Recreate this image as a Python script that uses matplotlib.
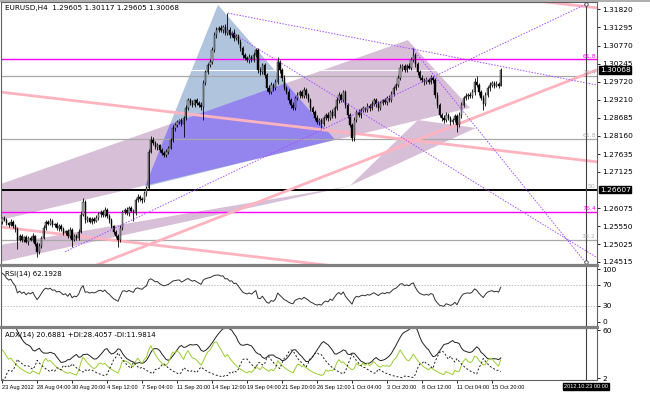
import numpy as np
import matplotlib
matplotlib.use("Agg")
import matplotlib.pyplot as plt
from matplotlib.patches import Polygon
from matplotlib.lines import Line2D

# ---------------- data ----------------
title_text = "EURUSD,H4  1.29605 1.30117 1.29605 1.30068"
rsi_text = "RSI(14) 62.1928"
adx_text = "ADX(14) 20.6881 +DI:28.4057 -DI:11.9814"

# bars before the visible window (only used to warm up the indicators)
warm_start = 1.2328
warm_closes = [1.2335, 1.2342, 1.2338, 1.2350, 1.2362, 1.2358, 1.2371, 1.2384, 1.2380, 1.2395,
               1.2408, 1.2415, 1.2410, 1.2426, 1.2438, 1.2447, 1.2443, 1.2458, 1.2470, 1.2482,
               1.2478, 1.2495, 1.2510, 1.2522, 1.2518, 1.2535, 1.2546, 1.2552, 1.2560, 1.2568]
warm_hi = [6, 5, 7, 4, 6, 5, 8, 6, 5, 7, 6, 4, 5, 8, 6, 5, 7, 6, 5, 8, 6, 7, 5, 6, 8, 5, 7, 6, 5, 6]
warm_lo = [5, 7, 6, 8, 5, 9, 6, 7, 8, 5, 6, 7, 9, 5, 6, 8, 7, 5, 6, 7, 8, 6, 5, 9, 6, 7, 5, 8, 6, 7]

# H4 closes, 23 Aug 2012 00:00 -> 16 Oct 2012 12:00
closes = [
    1.2579, 1.2574, 1.2565, 1.2559, 1.2568, 1.2556, 1.2547, 1.2516, 1.2527, 1.2516,
    1.2524, 1.2510, 1.2522, 1.2516, 1.2527, 1.2504, 1.2481, 1.2498, 1.2522, 1.2550,
    1.2568, 1.2562, 1.2571, 1.2559, 1.2562, 1.2550, 1.2556, 1.2547, 1.2536, 1.2542,
    1.2527, 1.2545, 1.2516, 1.2527, 1.2522, 1.2539, 1.2588, 1.2625, 1.2574, 1.2579,
    1.2568, 1.2576, 1.2571, 1.2579, 1.2591, 1.2597, 1.2588, 1.2602, 1.2585, 1.2574,
    1.2556, 1.2539, 1.2527, 1.2516, 1.2550, 1.2597, 1.2602, 1.2594, 1.2608, 1.2600,
    1.2594, 1.2631, 1.2640, 1.2634, 1.2631, 1.2652, 1.2666, 1.2770, 1.2805, 1.2796,
    1.2784, 1.2790, 1.2776, 1.2767, 1.2761, 1.2770, 1.2782, 1.2805, 1.2839, 1.2848,
    1.2857, 1.2862, 1.2851, 1.2868, 1.2897, 1.2920, 1.2912, 1.2906, 1.2920, 1.2912,
    1.2906, 1.2900, 1.2969, 1.3001, 1.3021, 1.3030, 1.3065, 1.3108, 1.3122, 1.3128,
    1.3122, 1.3131, 1.3114, 1.3122, 1.3108, 1.3114, 1.3099, 1.3105, 1.3088, 1.3070,
    1.3050, 1.3041, 1.3036, 1.3044, 1.3036, 1.3050, 1.3065, 1.3007, 1.3001, 1.3021,
    1.2992, 1.2955, 1.2943, 1.2963, 1.2955, 1.2972, 1.3030, 1.3007, 1.2984, 1.2955,
    1.2943, 1.2920, 1.2906, 1.2897, 1.2926, 1.2935, 1.2943, 1.2932, 1.2949, 1.2935,
    1.2920, 1.2897, 1.2886, 1.2868, 1.2857, 1.2862, 1.2851, 1.2868, 1.2877, 1.2868,
    1.2886, 1.2874, 1.2897, 1.2920, 1.2935, 1.2920, 1.2943, 1.2906, 1.2877, 1.2848,
    1.2810, 1.2862, 1.2886, 1.2877, 1.2891, 1.2897, 1.2891, 1.2903, 1.2897, 1.2909,
    1.2920, 1.2909, 1.2897, 1.2912, 1.2920, 1.2914, 1.2926, 1.2920, 1.2937, 1.2955,
    1.2963, 1.2984, 1.3013, 1.3018, 1.3007, 1.3018, 1.3013, 1.3036, 1.3050, 1.3024,
    1.3001, 1.2984, 1.2978, 1.2972, 1.2978, 1.2972, 1.2984, 1.2978, 1.2935, 1.2906,
    1.2877, 1.2868, 1.2862, 1.2877, 1.2868, 1.2857, 1.2862, 1.2874, 1.2848, 1.2877,
    1.2906, 1.2926, 1.2932, 1.2935, 1.2932, 1.2943, 1.2972, 1.2963, 1.2943, 1.2926,
    1.2909, 1.2935, 1.2955, 1.2963, 1.2969, 1.2961, 1.2966, 1.29605, 1.30068,
]
# upper / lower wicks in pips beyond the candle body
hi_wick = [
    4, 6, 5, 3, 7, 4, 5, 6, 4, 5, 3, 6, 4, 5, 7, 3, 5, 8, 6, 9,
    5, 4, 7, 5, 3, 6, 4, 5, 6, 3, 5, 7, 4, 6, 5, 8, 10, 12, 6, 5,
    4, 6, 5, 7, 5, 4, 6, 8, 5, 4, 6, 3, 5, 4, 7, 6, 5, 8, 6, 4,
    5, 6, 9, 4, 5, 6, 4, 8, 11, 7, 5, 6, 4, 5, 6, 7, 5, 6, 8, 5,
    6, 4, 7, 5, 8, 6, 5, 7, 4, 6, 5, 7, 8, 6, 5, 9, 7, 8, 10, 6,
    8, 7, 9, 49, 8, 6, 10, 7, 6, 8, 5, 7, 6, 9, 5, 8, 5, 6, 8, 7,
    6, 5, 7, 9, 6, 8, 14, 6, 5, 7, 6, 8, 5, 7, 6, 9, 5, 7, 8, 6,
    5, 7, 6, 5, 8, 6, 7, 5, 6, 8, 5, 7, 6, 8, 9, 5, 6, 7, 5, 6,
    5, 8, 6, 7, 5, 6, 4, 7, 5, 8, 6, 5, 7, 6, 4, 6, 5, 7, 8, 6,
    7, 8, 10, 6, 7, 5, 8, 9, 20, 7, 6, 5, 8, 6, 7, 5, 8, 6, 5, 7,
    6, 5, 7, 8, 6, 5, 7, 6, 5, 8, 7, 6, 9, 5, 7, 8, 10, 17, 6, 5,
    7, 8, 6, 9, 7, 6, 8, 7, 5,
]
lo_wick = [
    8, 5, 6, 7, 4, 6, 8, 26, 5, 7, 6, 4, 8, 5, 6, 7, 14, 6, 5, 4,
    6, 5, 4, 7, 5, 6, 8, 5, 6, 7, 5, 6, 20, 5, 7, 6, 5, 4, 9, 6,
    5, 7, 6, 4, 5, 8, 6, 5, 7, 9, 6, 8, 7, 20, 6, 5, 7, 6, 9, 5,
    23, 6, 5, 7, 8, 6, 9, 5, 4, 7, 6, 8, 7, 6, 5, 6, 7, 5, 6, 8,
    5, 7, 6, 38, 5, 6, 8, 7, 5, 6, 7, 8, 38, 6, 5, 7, 6, 5, 8, 7,
    6, 8, 7, 5, 9, 6, 8, 7, 6, 8, 9, 7, 6, 8, 5, 7, 6, 9, 8, 6,
    8, 9, 7, 6, 8, 7, 6, 8, 9, 7, 6, 8, 9, 7, 6, 5, 8, 7, 6, 8,
    7, 9, 8, 7, 6, 9, 12, 7, 6, 8, 7, 6, 5, 7, 8, 6, 7, 9, 8, 7,
    8, 9, 7, 6, 8, 5, 7, 6, 8, 7, 6, 8, 9, 6, 7, 5, 8, 6, 7, 5,
    6, 7, 5, 8, 6, 7, 5, 6, 7, 8, 9, 7, 6, 8, 5, 7, 6, 8, 9, 8,
    7, 9, 8, 6, 7, 9, 8, 7, 20, 6, 8, 7, 6, 9, 7, 6, 8, 7, 9, 6,
    18, 7, 6, 8, 7, 6, 5, 7, 0,
]

time_labels = ["23 Aug 2012", "28 Aug 04:00", "30 Aug 20:00", "4 Sep 12:00", "7 Sep 04:00",
               "11 Sep 20:00", "14 Sep 12:00", "19 Sep 04:00", "21 Sep 20:00", "26 Sep 12:00",
               "1 Oct 04:00", "3 Oct 20:00", "8 Oct 12:00", "11 Oct 04:00", "15 Oct 20:00"]
time_ticks = [0, 16, 32, 48, 64, 80, 96, 112, 128, 144, 160, 176, 192, 208, 224]
price_ticks = [1.31820, 1.31295, 1.30770, 1.30245, 1.29720, 1.29210, 1.28685, 1.28160,
               1.27635, 1.27125, 1.26075, 1.25550, 1.25025, 1.24515]
rsi_ticks = [100, 70, 30, 0]
adx_ticks = [60, 2]

# chart objects, in (bar index, price)
vline_bar = 266.9
vline_label = "2012.10.23 00:00"
bid_price = 1.30068
black_level = 1.26607
magenta_levels = [1.30377, 1.25967]
magenta_names = ["61.8", "76.4"]
gray_levels = [1.29894, 1.28075, 1.25158]
gray_names = ["76.4", "61.8", "38.2"]

blue_tri = [(65.3, 1.2669), (98.7, 1.3195), (152.2, 1.2805)]
thistle_1 = [(-143.6, 1.2357), (185.5, 1.3093), (213.9, 1.2897)]
thistle_2 = [(-46.7, 1.2452), (159.9, 1.2672), (-46.7, 1.2389)]
thistle_3 = [(159.1, 1.2672), (190.1, 1.2862), (216.6, 1.2839)]

pink_lines = [((-1.0, 1.2943), (272.0, 1.2741)),
              ((-1.0, 1.3388), (272.0, 1.3186)),
              ((-1.0, 1.2553), (272.0, 1.2351)),
              ((42.5, 1.2441), (272.0, 1.3007))]
dotted_lines = [((103.3, 1.3171), (272.0, 1.2963)),
                ((105.1, 1.3114), (272.0, 1.2464)),
                ((187.4, 1.3070), (266.5, 1.2452)),
                ((28.8, 1.2481), (267.0, 1.3197))]
anchor_points = [(vline_bar, 1.3197), (vline_bar, 1.2452)]

# ---------------- OHLC ----------------
all_close = np.array(warm_closes + closes)
all_open = np.concatenate([[warm_start], all_close[:-1]])
all_open[-1] = 1.29605
pip = 0.0001
body_top = np.maximum(all_open, all_close)
body_bot = np.minimum(all_open, all_close)
all_high = body_top + np.array(warm_hi + hi_wick) * pip
all_low = body_bot - np.array(warm_lo + lo_wick) * pip
nw = len(warm_closes)
N = len(all_close)

# ---------------- indicators ----------------
period = 14
rsi = np.full(N, np.nan)
d = np.diff(all_close)
g = np.clip(d, 0, None)
l = np.clip(-d, 0, None)
ag, al = g[:period].mean(), l[:period].mean()
rsi[period] = 100 - 100 / (1 + ag / al) if al > 0 else 100
for k in range(period, len(d)):
    ag = (ag * (period - 1) + g[k]) / period
    al = (al * (period - 1) + l[k]) / period
    rsi[k + 1] = 100 if al == 0 else 100 - 100 / (1 + ag / al)

psdi = np.zeros(N)
msdi = np.zeros(N)
for i in range(1, N):
    pdm = max(all_high[i] - all_high[i - 1], 0)
    mdm = max(all_low[i - 1] - all_low[i], 0)
    if pdm == mdm:
        pdm = mdm = 0
    elif pdm < mdm:
        pdm = 0
    else:
        mdm = 0
    tr = max(all_high[i] - all_low[i], abs(all_high[i] - all_close[i - 1]),
             abs(all_low[i] - all_close[i - 1]))
    if tr > 0:
        psdi[i] = 100 * pdm / tr
        msdi[i] = 100 * mdm / tr


def ema(a, n):
    out = np.zeros_like(a)
    k = 2.0 / (n + 1)
    out[0] = a[0]
    for i in range(1, len(a)):
        out[i] = a[i] * k + out[i - 1] * (1 - k)
    return out


pdi = ema(psdi, period)
mdi = ema(msdi, period)
dx = np.where(pdi + mdi > 0, 100 * np.abs(pdi - mdi) / np.maximum(pdi + mdi, 1e-9), 0)
adx = ema(dx, period)

# ---------------- figure ----------------
W, H = 650, 393
fig = plt.figure(figsize=(W / 100, H / 100), dpi=100)
fig.patch.set_facecolor("white")
FS = 5.4
SMALL = ["Liberation Sans", "DejaVu Sans"]


def px_axes(x0, y0, x1, y1):
    return fig.add_axes([x0 / W, 1 - y1 / H, (x1 - x0) / W, (y1 - y0) / H])


ax = px_axes(1, 2, 597, 264)
ax_rsi = px_axes(1, 266, 597, 326)
ax_adx = px_axes(1, 328, 597, 380)

xs = np.arange(len(closes))
xlim = (-0.5, 272.0)
for a in (ax, ax_rsi, ax_adx):
    a.set_xlim(*xlim)
    a.set_facecolor("white")
    for s in a.spines.values():
        s.set_color("#606060")
        s.set_linewidth(0.8)
    a.yaxis.tick_right()
    a.tick_params(axis="y", right=True, left=False, labelright=True, labelleft=False,
                  length=2.5, width=0.6, labelsize=FS, pad=1.5)
    a.tick_params(axis="x", bottom=False, labelbottom=False)
    a.axvline(vline_bar, color="#404040", lw=0.8, zorder=6)

# --- main price window ---
ax.set_ylim(1.24457, 1.32031)
ax.set_yticks(price_ticks)
ax.set_yticklabels([f"{p:.5f}" for p in price_ticks])

t1 = Polygon(thistle_1, closed=True, fc="#d8bfd8", ec="none", zorder=1)
ax.add_patch(t1)
ax.add_patch(Polygon(thistle_2, closed=True, fc="#d8bfd8", ec="none", zorder=1))
ax.add_patch(Polygon(thistle_3, closed=True, fc="#d8bfd8", ec="none", zorder=1))
ax.add_patch(Polygon(blue_tri, closed=True, fc="#b0c4de", ec="none", zorder=1.1))
violet = Polygon(blue_tri, closed=True, fc="#9484ee", ec="none", zorder=1.2)
ax.add_patch(violet)
violet.set_clip_path(t1)

for lv in gray_levels:
    ax.axhline(lv, color="#a8a8a8", lw=0.9, zorder=2)
for lv in magenta_levels:
    ax.axhline(lv, color="#ff00ff", lw=1.0, zorder=2)
ax.axhline(bid_price, color="white", lw=0.8, zorder=2)
ax.axhline(black_level, color="black", lw=1.4, zorder=2)

for (p0, p1) in pink_lines:
    ax.plot([p0[0], p1[0]], [p0[1], p1[1]], color="#ffb3bf", lw=2.0,
            solid_capstyle="butt", zorder=2.5)

# candles
vis_o = all_open[nw:]
vis_c = all_close[nw:]
ax.vlines(xs, all_low[nw:], all_high[nw:], color="black", lw=0.6, zorder=3)
up = vis_c >= vis_o
hgt = np.maximum(np.abs(vis_c - vis_o), 0.00005)
ax.bar(xs[up], hgt[up], bottom=np.minimum(vis_o, vis_c)[up], width=0.6,
       color="#b4b4b4", edgecolor="black", lw=0.3, zorder=3.1)
ax.bar(xs[~up], hgt[~up], bottom=np.minimum(vis_o, vis_c)[~up], width=0.6,
       color="black", edgecolor="black", lw=0.3, zorder=3.1)

for (p0, p1) in dotted_lines:
    ax.plot([p0[0], p1[0]], [p0[1], p1[1]], color="#a64dff", lw=0.7,
            linestyle=(0, (1.5, 1.5)), zorder=4)
for (bx, py) in anchor_points:
    ax.plot(bx, py, "o", ms=2.5, mfc="white", mec="#404040", mew=0.6, zorder=7)

ytr = ax.get_yaxis_transform()
for lv, nm in zip(magenta_levels, magenta_names):
    ax.text(0.998, lv + 0.0002, nm, transform=ytr, ha="right", va="bottom",
            fontsize=4.5, color="#ff00ff", zorder=8)
for lv, nm in zip(gray_levels, gray_names):
    ax.text(0.998, lv + 0.0002, nm, transform=ytr, ha="right", va="bottom",
            fontsize=4.5, color="#b0b0b0", zorder=8)
ax.text(0.998, black_level + 0.0002, "50", transform=ytr, ha="right", va="bottom",
        fontsize=4.5, color="#b0b0b0", zorder=8)

for lv in (bid_price, black_level):
    ax.text(1.005, lv, f"{lv:.5f}", transform=ytr, ha="left", va="center", fontsize=FS,
            color="white", zorder=9, clip_on=False,
            bbox=dict(boxstyle="square,pad=0.08", fc="black", ec="black"))

ax.text(4 / 596, 1 - 3 / 262, title_text, transform=ax.transAxes, ha="left", va="top",
        fontsize=5.2, color="black")

# --- RSI window ---
ax_rsi.set_ylim(-8.2, 105.7)
ax_rsi.set_yticks(rsi_ticks)
ax_rsi.set_yticklabels([str(v) for v in rsi_ticks])
for lv in (70, 30):
    ax_rsi.axhline(lv, color="#c0c0c0", lw=0.7, linestyle=(0, (1.5, 1.5)))
ax_rsi.plot(xs, rsi[nw:], color="#303030", lw=0.7)
ax_rsi.text(4 / 596, 0.93, rsi_text, transform=ax_rsi.transAxes, ha="left", va="top",
            fontsize=5.0)

# --- ADX window ---
ax_adx.set_ylim(-0.05, 62.8)
ax_adx.set_yticks(adx_ticks)
ax_adx.set_yticklabels([str(v) for v in adx_ticks])
ax_adx.plot(xs, adx[nw:], color="#202020", lw=0.7)
ax_adx.plot(xs, pdi[nw:], color="#9acd32", lw=0.7)
ax_adx.plot(xs, mdi[nw:], color="#202020", lw=0.7, linestyle=(0, (2, 2)))
ax_adx.text(4 / 596, 0.93, adx_text, transform=ax_adx.transAxes, ha="left", va="top",
            fontsize=5.0)

ax_adx.tick_params(axis="x", bottom=True, labelbottom=True, length=2, width=0.6, pad=1.5)
ax_adx.set_xticks(time_ticks)
ax_adx.set_xticklabels(time_labels, fontsize=4.1, family=SMALL)
for lbl in ax_adx.get_xticklabels():
    lbl.set_ha("left")
ax_adx.text(vline_bar, -0.08, vline_label, transform=ax_adx.get_xaxis_transform(),
            ha="center", va="top", fontsize=4.1, family=SMALL, color="white", clip_on=False,
            bbox=dict(boxstyle="square,pad=0.15", fc="black", ec="black"))

# panel separators
for yy in (265, 327):
    fig.add_artist(Line2D([0, 597 / W], [1 - yy / H] * 2, color="#808080", lw=2.2))
fig.add_artist(Line2D([0, 1], [1 - 0.5 / H] * 2, color="#a0a0a0", lw=1.2))

fig.savefig("out.png", dpi=100, facecolor="white")
